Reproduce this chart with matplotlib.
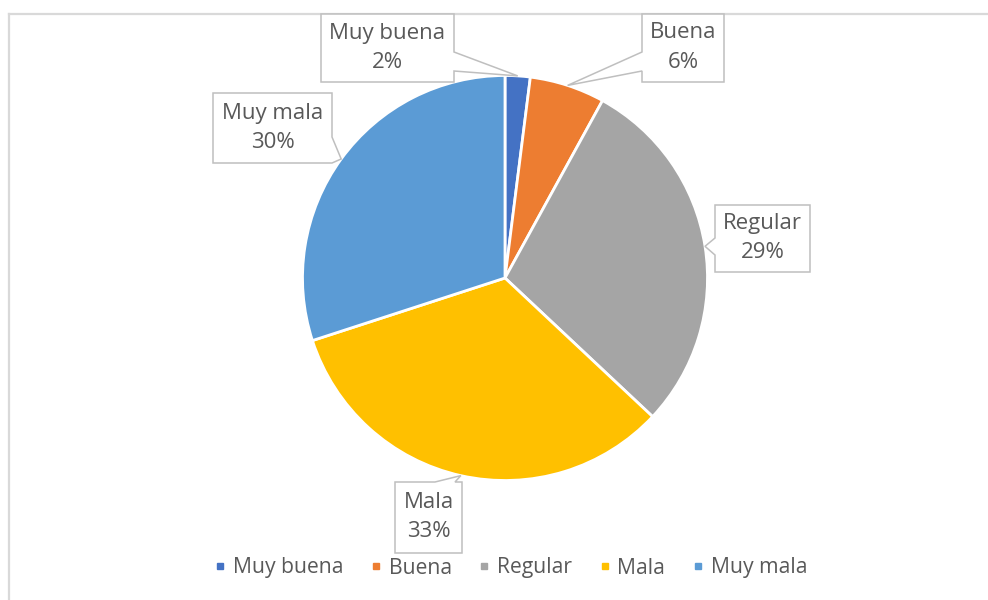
import numpy as np
import matplotlib
matplotlib.use("Agg")
import matplotlib.pyplot as plt
from matplotlib.patches import Polygon
from matplotlib.lines import Line2D

categories = ["Muy buena", "Buena", "Regular", "Mala", "Muy mala"]
values = [2, 6, 29, 33, 30]
colors = ["#4472C4", "#ED7D31", "#A5A5A5", "#FFC000", "#5B9BD5"]

W, H = 988, 600
fig = plt.figure(figsize=(W / 100, H / 100), dpi=100)
ax = fig.add_axes([0, 0, 1, 1])

def Y(y):
    return H - y

plt.rcParams["font.family"] = ["Open Sans", "DejaVu Sans"]
txt_color = "#595959"

cx, cy, r = 505, Y(278), 202.5
wedges, _ = ax.pie(values, colors=colors, startangle=90, counterclock=False,
                   center=(cx, cy), radius=r, frame=True,
                   wedgeprops=dict(edgecolor="white", linewidth=2))
ax.set_xlim(0, W)
ax.set_ylim(0, H)
ax.set_aspect("equal")
ax.axis("off")

# chart frame
ax.add_line(Line2D([9, 9], [Y(14), Y(600)], color="#D9D9D9", lw=1.6))
ax.add_line(Line2D([9, 988], [Y(14), Y(14)], color="#D9D9D9", lw=1.6))

total = sum(values)
cum = np.cumsum([0] + values[:-1])
mids = [90 - 360 * (c + v / 2) / total for c, v in zip(cum, values)]
tips = [(cx + r * np.cos(np.radians(a)), cy + r * np.sin(np.radians(a))) for a in mids]

# label boxes in category order: (x0, x1, ytop, ybottom, side, base_a, base_b)
boxes = [
    (321, 454, 14, 82, "right", 52, 71),     # Muy buena
    (642, 724, 14, 82, "left", 52, 71),      # Buena
    (715, 810, 205, 272, "left", 238, 255),  # Regular
    (395, 462, 482, 553, "top", 435, 455),   # Mala
    (213, 332, 93, 163, "right", 137, 163),  # Muy mala
]

def callout(x0, x1, yt, yb, side, a, b, tip):
    tl, tr, br, bl = (x0, Y(yt)), (x1, Y(yt)), (x1, Y(yb)), (x0, Y(yb))
    if side == "right":
        pts = [tl, tr, (x1, Y(a)), tip, (x1, Y(b)), br, bl]
    elif side == "left":
        pts = [tl, tr, br, bl, (x0, Y(b)), tip, (x0, Y(a))]
    else:  # top
        pts = [tl, (a, Y(yt)), tip, (b, Y(yt)), tr, br, bl]
    return pts

for (x0, x1, yt, yb, side, a, b), tip, cat, v in zip(boxes, tips, categories, values):
    poly = Polygon(callout(x0, x1, yt, yb, side, a, b, tip), closed=True,
                   facecolor="white", edgecolor="#BFBFBF", lw=1.1, zorder=5)
    ax.add_patch(poly)
    xc = (x0 + x1) / 2
    yc = (yt + yb) / 2
    ax.text(xc, Y(yc - 15), cat, ha="center", va="center", fontsize=16,
            color=txt_color, zorder=6)
    ax.text(xc, Y(yc + 14), f"{v}%", ha="center", va="center", fontsize=16,
            color=txt_color, zorder=6)

handles = [Line2D([], [], marker="s", ls="none", markersize=5,
                  markerfacecolor=c, markeredgecolor=c) for c in colors]
fig.legend(handles, categories, loc="center", bbox_to_anchor=(511 / W, 1 - 568 / H),
           ncol=5, frameon=False, fontsize=15.2, handlelength=0.5,
           handletextpad=0.35, columnspacing=1.3, labelcolor=txt_color,
           borderpad=0, borderaxespad=0)

fig.savefig("out.png", dpi=100)
